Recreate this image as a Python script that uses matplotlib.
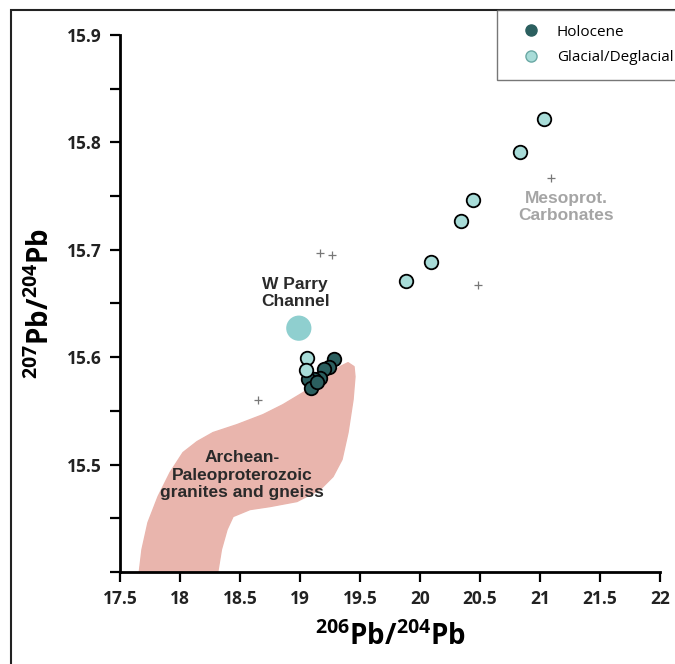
import matplotlib.pyplot as plt
from matplotlib.patches import Polygon, Rectangle
from matplotlib.lines import Line2D

plt.rcParams['mathtext.default'] = 'regular'

# du lieu doc tu hinh
holo_x = [19.28, 19.24, 19.20, 19.17, 19.12, 19.07, 19.09, 19.14]
holo_y = [15.598, 15.591, 15.589, 15.581, 15.580, 15.580, 15.571, 15.577]

glac_x = [21.03, 20.83, 20.44, 20.34, 20.09, 19.88, 19.06, 19.05]
glac_y = [15.822, 15.791, 15.746, 15.727, 15.689, 15.671, 15.599, 15.588]

parry_x = [18.99]
parry_y = [15.627]

cross_x = [21.09, 20.48, 19.17, 19.27, 18.65]
cross_y = [15.767, 15.667, 15.697, 15.695, 15.560]

# vung Archean-Paleoproterozoic
field_x = [17.65, 17.683, 17.733, 17.817, 17.917, 18.025, 18.142, 18.275, 18.475, 18.692,
           18.858, 19.025, 19.192, 19.333, 19.40, 19.45, 19.458, 19.442, 19.40, 19.35,
           19.275, 19.167, 18.975, 18.75, 18.583, 18.442, 18.392, 18.345, 18.30]
field_y = [15.39, 15.4209, 15.446, 15.4702, 15.4926, 15.5112, 15.5214, 15.5298, 15.5372, 15.5465,
           15.5558, 15.567, 15.5791, 15.5912, 15.5949, 15.5912, 15.5819, 15.5605, 15.5298, 15.5047,
           15.4888, 15.4767, 15.4656, 15.4609, 15.4581, 15.4516, 15.4395, 15.4209, 15.39]

x_ticks = [17.5, 18, 18.5, 19, 19.5, 20, 20.5, 21, 21.5, 22]
x_labels = ['17.5', '18', '18.5', '19', '19.5', '20', '20.5', '21', '21.5', '22']
y_ticks = [15.4, 15.45, 15.5, 15.55, 15.6, 15.65, 15.7, 15.75, 15.8, 15.85, 15.9]
y_labels = ['', '', '15.5', '', '15.6', '', '15.7', '', '15.8', '', '15.9']

dark = '#2b5f5f'
light = '#a8dcd8'

fig = plt.figure(figsize=(6.75, 6.64), dpi=100)
ax = fig.add_axes([0.1778, 0.1386, 0.8, 0.8087])

# khung ngoai
fig.patches.append(Rectangle((11 / 675, -0.1), 1.2, 1 - 10 / 664 + 0.1, transform=fig.transFigure,
                             fill=False, edgecolor='#222222', linewidth=1.5, zorder=0))

ax.add_patch(Polygon(list(zip(field_x, field_y)), closed=True, facecolor='#e9b5ad',
                     edgecolor='#e9b5ad', linewidth=1, joinstyle='round', zorder=1))

ax.scatter(cross_x, cross_y, marker='+', s=30, color='#777777', linewidths=0.9, zorder=2)
ax.scatter(parry_x, parry_y, s=330, color='#8fcfcf', edgecolors='none', zorder=2)
ax.scatter(holo_x, holo_y, s=95, color=dark, edgecolors='black', linewidths=1.3, zorder=3)
ax.scatter(glac_x, glac_y, s=95, color=light, edgecolors='black', linewidths=1.3, zorder=4)

ann = dict(family='Liberation Sans', fontweight='bold', fontsize=12.5, ha='center', va='center',
           linespacing=1.2)
ax.text(18.96, 15.660, 'W Parry\nChannel', color='#2a2a2a', **ann)
ax.text(21.22, 15.740, 'Mesoprot.\nCarbonates', color='#a5a5a5', **ann)
ax.text(18.52, 15.490, 'Archean-\nPaleoproterozoic\ngranites and gneiss', color='#2a2a2a', **ann)

ax.set_xlim(17.5, 22)
ax.set_ylim(15.4, 15.9)
ax.set_xticks(x_ticks)
ax.set_xticklabels(x_labels)
ax.set_yticks(y_ticks)
ax.set_yticklabels(y_labels)
for lab in ax.get_xticklabels() + ax.get_yticklabels():
    lab.set_family('Open Sans')
    lab.set_fontweight('bold')
    lab.set_fontsize(12.5)
    lab.set_color('#222222')
ax.tick_params(axis='both', direction='out', length=7, width=1.6, color='black', pad=6)

for s in ['top', 'right']:
    ax.spines[s].set_visible(False)
for s in ['left', 'bottom']:
    ax.spines[s].set_linewidth(2)

ax.set_xlabel('$^{206}$Pb/$^{204}$Pb', family='Open Sans', fontweight='bold', fontsize=20,
              labelpad=10)
ax.set_ylabel('$^{207}$Pb/$^{204}$Pb', family='Open Sans', fontweight='bold', fontsize=20,
              labelpad=8)

handles = [Line2D([], [], marker='o', linestyle='none', markersize=8, color=dark,
                  markeredgecolor=dark),
           Line2D([], [], marker='o', linestyle='none', markersize=8, color=light,
                  markeredgecolor='#6aa8a4')]
leg = fig.legend(handles, ['Holocene', 'Glacial/Deglacial'], loc='upper left',
                 bbox_to_anchor=(497 / 675, 1 - 10 / 664), borderaxespad=0, frameon=True,
                 fancybox=False, prop={'family': 'Open Sans', 'size': 11}, handlelength=2.6,
                 handletextpad=0.37, borderpad=0.95, labelspacing=0.7)
leg.get_frame().set_edgecolor('#555555')
leg.get_frame().set_linewidth(1)

fig.savefig('out.png', dpi=100)
